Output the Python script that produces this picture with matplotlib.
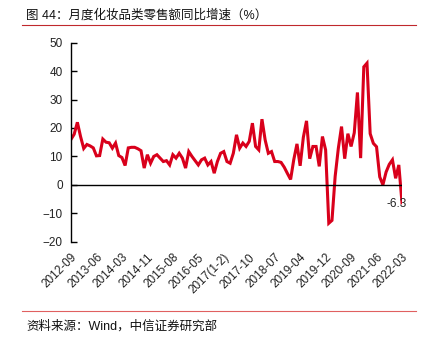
import matplotlib.pyplot as plt
import matplotlib.transforms as mtransforms
import numpy as np

plt.rcParams['font.family'] = ['Liberation Sans', 'Noto Sans CJK SC', 'DejaVu Sans']

# Monatswerte 2012-09 bis 2022-03 (Jan/Feb zusammengefasst)
growth = [
    16.0, 17.8, 22.0, 17.0, 12.8, 14.2, 13.7, 13.0, 10.2, 10.3,
    16.1, 15.0, 14.8, 12.9, 14.7, 10.3, 9.6, 6.8, 13.0, 13.2,
    13.2, 12.7, 12.0, 5.9, 10.6, 7.6, 10.0, 10.6, 9.4, 8.2,
    8.5, 7.0, 10.6, 9.4, 11.1, 9.4, 5.9, 11.7, 10.0, 8.5,
    7.0, 8.8, 9.4, 7.0, 8.2, 4.1, 8.2, 11.1, 11.7, 8.2,
    7.6, 11.1, 17.6, 12.9, 14.7, 13.5, 15.3, 21.7, 13.5, 12.3,
    23.1, 15.8, 11.1, 11.7, 8.2, 8.2, 7.9, 6.2, 4.0, 1.9,
    8.9, 14.4, 6.7, 16.7, 22.5, 9.2, 13.5, 13.5, 6.5, 17.0,
    12.3, -13.5, -12.5, 3.0, 12.9, 20.5, 9.2, 18.0, 13.5, 18.3,
    32.5, 9.4, 41.5, 42.8, 18.0, 14.6, 13.4, 2.8, 0.0, 4.5,
    7.2, 8.8, 2.3, 7.0, -6.3,
]

tick_labels = ["2012-09", "2013-06", "2014-03", "2014-11", "2015-08", "2016-05",
               "2017(1-2)", "2017-10", "2018-07", "2019-04", "2019-12", "2020-09",
               "2021-06", "2022-03"]
tick_step = 8

title = "图 44：月度化妆品类零售额同比增速（%）"
source = "资料来源：Wind，中信证券研究部"

x = np.arange(len(growth))

fig = plt.figure(figsize=(4.4, 3.39), dpi=100)
ax = fig.add_axes([71 / 440, 1 - 241.7 / 339, 331 / 440, 199 / 339])

ax.plot(x, growth, color='#D9001B', linewidth=2.2, solid_joinstyle='miter')
ax.axhline(0, color='black', linewidth=1)

ax.set_xlim(0, len(growth) - 1)
ax.set_ylim(-20, 50)
ax.set_yticks(np.arange(-20, 51, 10))

ax.set_xticks(x[::tick_step])
ax.set_xticklabels(tick_labels, rotation=45, ha='right', va='top',
                   rotation_mode='anchor', fontsize=8.5, color='#222222')
for lab in ax.get_xticklabels():
    lab.set_transform(lab.get_transform() +
                      mtransforms.ScaledTranslation(5 / 72, 0, fig.dpi_scale_trans))

ax.tick_params(axis='x', length=0, pad=7)
ax.tick_params(axis='y', direction='in', length=4, width=1, pad=6,
               labelsize=8.5, labelcolor='#222222')

for s in ['top', 'right', 'bottom']:
    ax.spines[s].set_visible(False)
ax.spines['left'].set_linewidth(1)

ax.annotate("-6.3", xy=(x[-1], growth[-1]), xytext=(-4, -1),
            textcoords='offset points', ha='center', va='center',
            fontsize=8.5, color='#222222')

# Titel und Quelle
fig.text(26 / 440, 1 - 15 / 339, title, fontsize=9, va='center', ha='left',
         color='#111111')
fig.add_artist(plt.Line2D([22 / 440, 416 / 440], [1 - 25 / 339, 1 - 25 / 339],
                          color='#C0282D', linewidth=0.8))
fig.add_artist(plt.Line2D([22 / 440, 416 / 440], [1 - 310.5 / 339, 1 - 310.5 / 339],
                          color='#E06060', linewidth=0.8))
fig.text(26 / 440, 1 - 326.5 / 339, source, fontsize=9, va='center', ha='left',
         color='#111111')

fig.savefig('out.png', dpi=100)
